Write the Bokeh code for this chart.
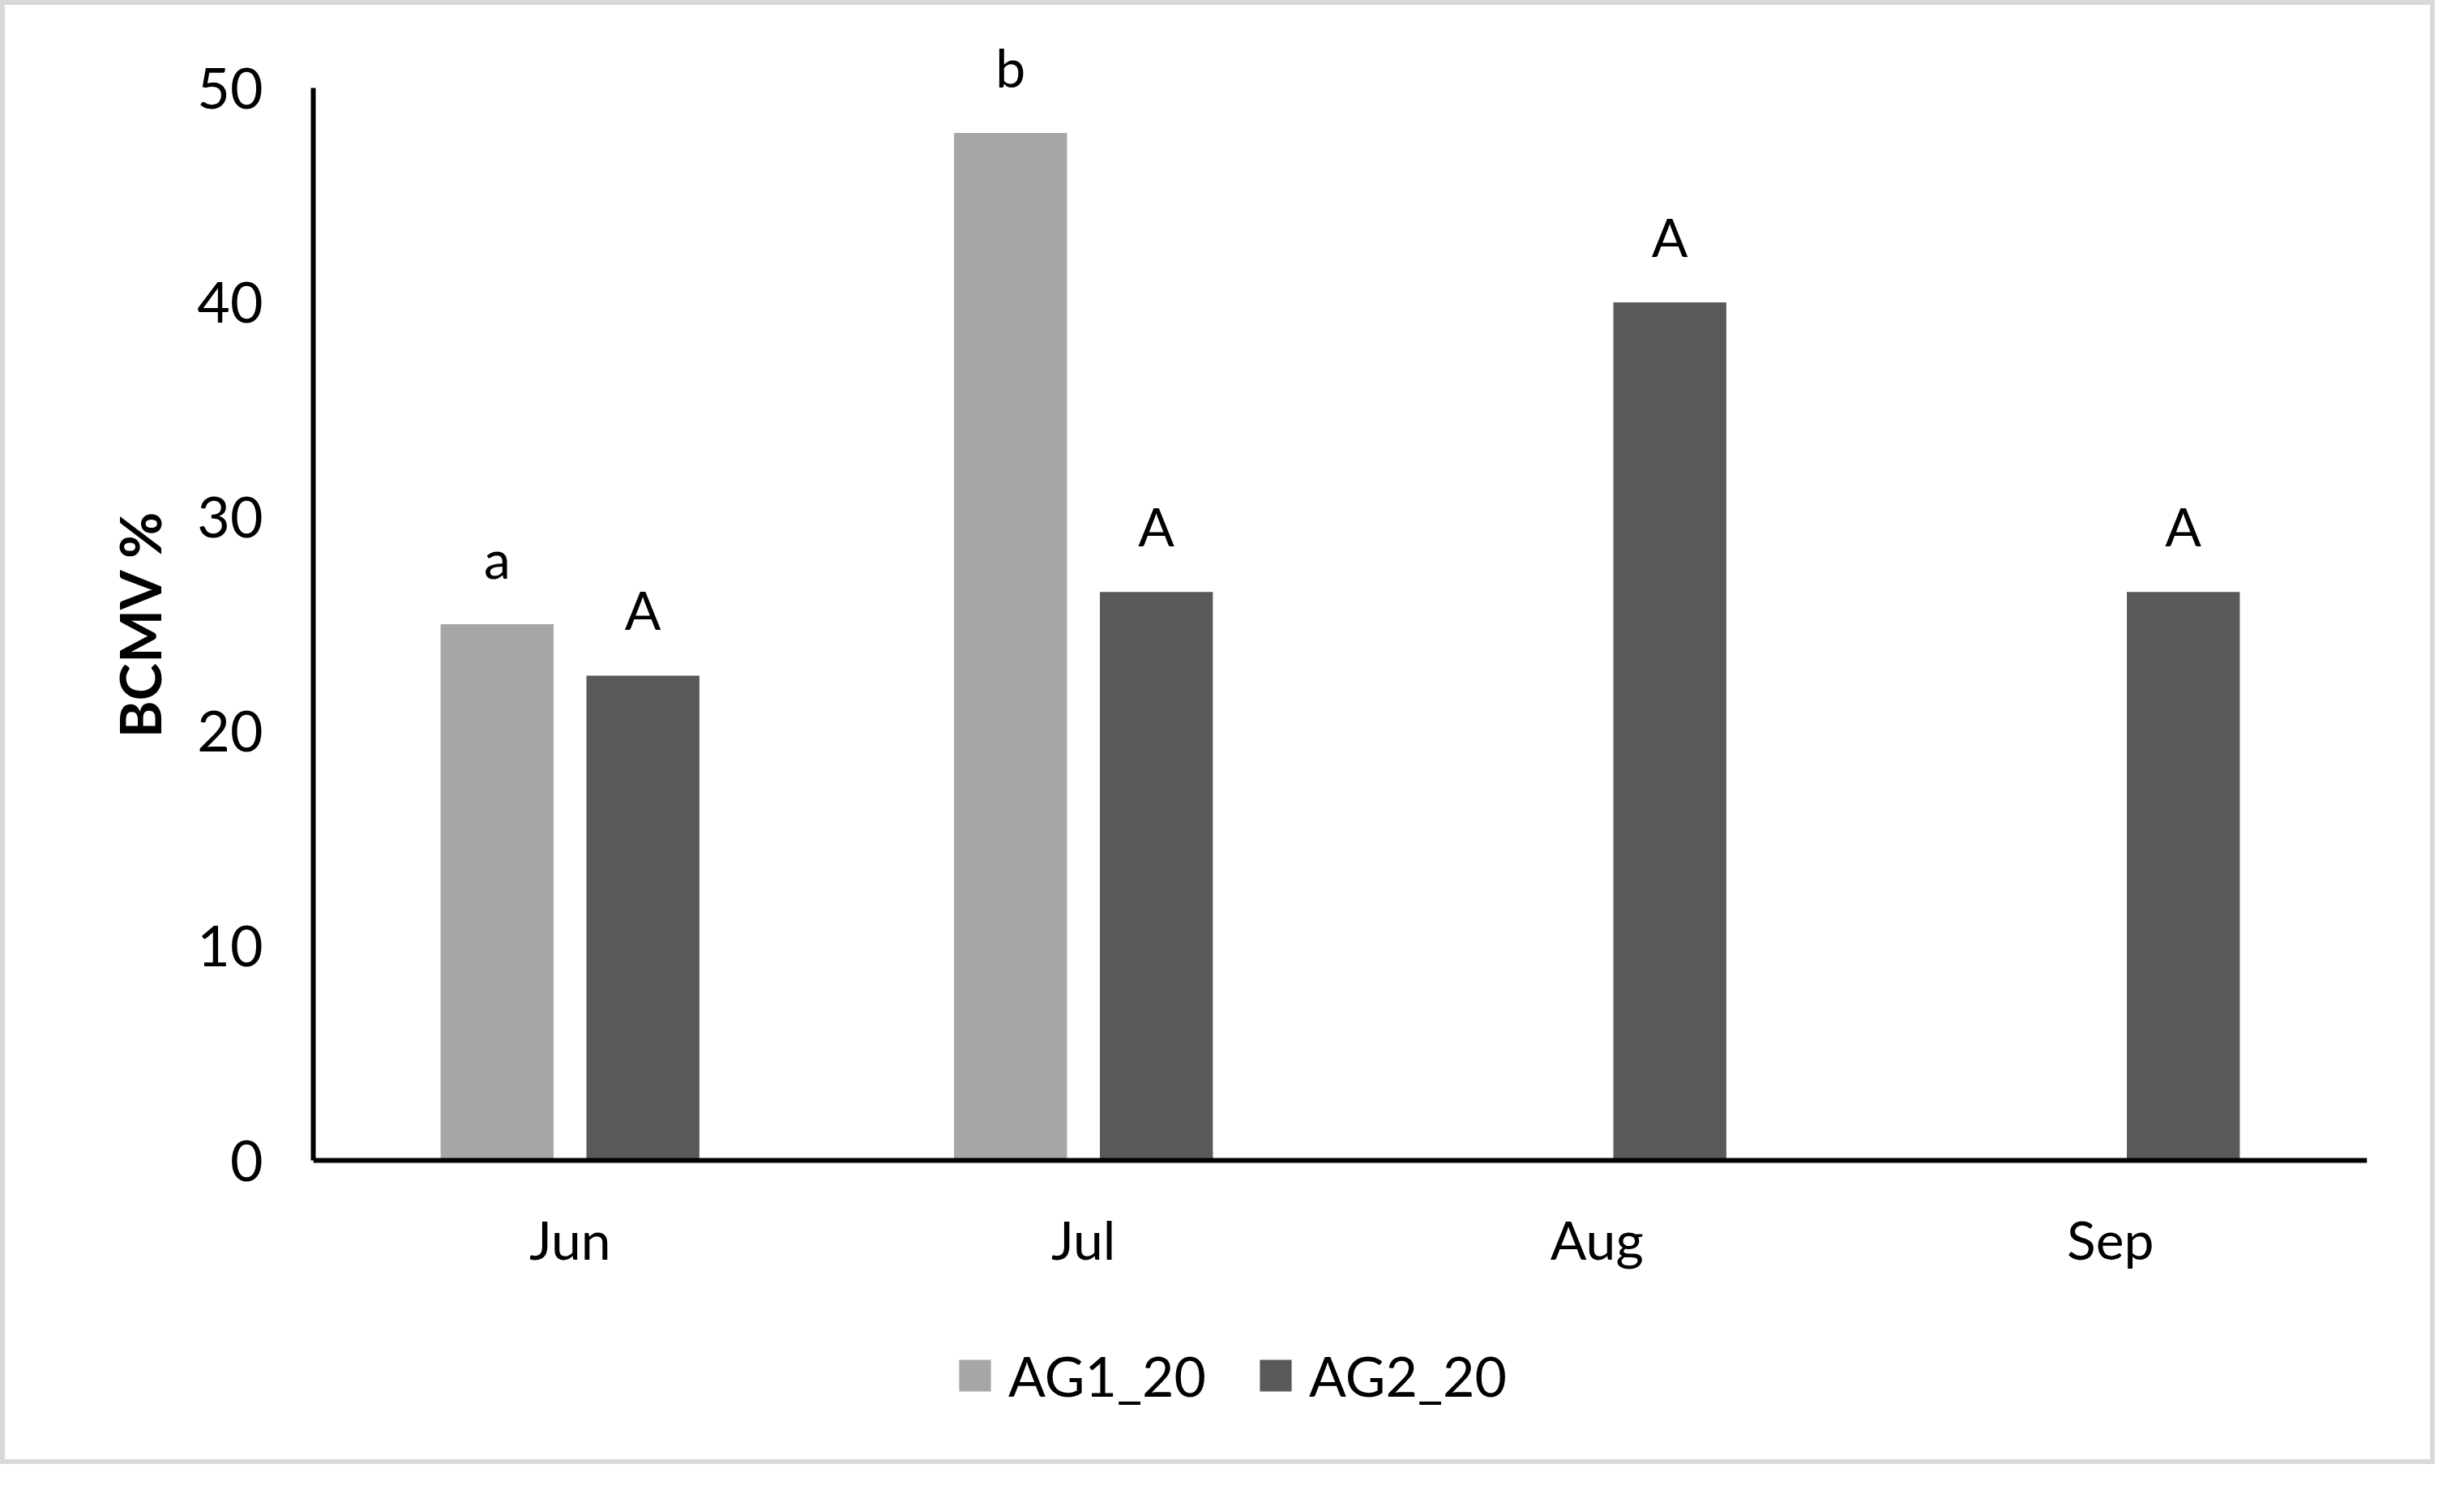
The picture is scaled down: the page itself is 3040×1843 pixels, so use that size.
from bokeh.plotting import figure
from bokeh.models import Range1d, FixedTicker, Legend, LegendItem, ColumnDataSource, Span, Title
from bokeh.transform import dodge
from bokeh.core.properties import value
from bokeh.embed import file_html
from bokeh.resources import INLINE

# ---- data ----
months = ["Jun", "Jul", "Aug", "Sep"]
ag1_values = [25.0, 47.9, 0.0, 0.0]
ag2_values = [22.6, 26.5, 40.0, 26.5]
ag1_letters = ["a", "b", "", ""]
ag2_letters = ["A", "A", "A", "A"]
series_names = ["AG1_20", "AG2_20"]
y_ticks = [0, 10, 20, 30, 40, 50]
y_label = "BCMV %"

FONT = "Lato"
C1 = "#a6a6a6"
C2 = "#595959"

# layout (pixels)
AX_H = 1323.0          # height of the 0..50 axis
PPU = AX_H / 50.0      # pixels per unit
TOP_EXTRA = 76         # frame space above 50
BOT_EXTRA = 351        # frame space below 0 (labels + legend)

src = ColumnDataSource(dict(month=months, ag1=ag1_values, ag2=ag2_values,
                            l1=ag1_letters, l2=ag2_letters))

p = figure(x_range=months,
           y_range=Range1d(-BOT_EXTRA / PPU, 50 + TOP_EXTRA / PPU),
           width=3004, height=1806,
           min_border_left=380, min_border_top=26,
           min_border_right=90, min_border_bottom=30,
           output_backend="svg", toolbar_location=None)
p.styles = {"border": "6px solid #d9d9d9"}

p.outline_line_color = None
p.xgrid.grid_line_color = None
p.ygrid.grid_line_color = None
p.background_fill_color = "white"
p.border_fill_color = "white"

off = 0.142
bw = 0.22
r1 = p.vbar(x=dodge("month", -off, range=p.x_range), top="ag1", width=bw,
            source=src, fill_color=C1, line_color=None)
r2 = p.vbar(x=dodge("month", off, range=p.x_range), top="ag2", width=bw,
            source=src, fill_color=C2, line_color=None)

for col, lab, d in (("ag1", "l1", -off), ("ag2", "l2", off)):
    p.text(x=dodge("month", d, range=p.x_range), y=col, text=lab, source=src,
           y_offset=-82, text_align="center", text_baseline="alphabetic",
           text_font=value(FONT), text_font_size="66px", text_color="black")

# x axis: line at 0 plus month labels
p.xaxis.visible = False
p.add_layout(Span(location=0, dimension="width", line_color="black", line_width=6))
p.text(x="month", y=0, text="month", source=src, y_offset=97,
       text_align="center", text_baseline="alphabetic",
       text_font=value(FONT), text_font_size="66px", text_color="black")

# y axis
ya = p.yaxis[0]
ya.bounds = (0, 50)
ya.ticker = FixedTicker(ticks=y_ticks)
ya.axis_line_width = 6
ya.axis_line_color = "black"
ya.major_tick_line_color = None
ya.minor_tick_line_color = None
ya.major_tick_out = 0
ya.major_tick_in = 0
ya.major_label_text_font = FONT
ya.major_label_text_font_size = "70px"
ya.major_label_text_color = "black"
ya.major_label_standoff = 62

ytitle = Title(text=y_label, align="left", offset=872, standoff=54,
               text_font=FONT, text_font_style="bold", text_font_size="70px",
               text_color="black")
p.add_layout(ytitle, "left")

legend = Legend(items=[LegendItem(label=series_names[0], renderers=[r1]),
                       LegendItem(label=series_names[1], renderers=[r2])],
                orientation="horizontal", location=(792, 45),
                glyph_width=49, glyph_height=49, label_standoff=17,
                spacing=61, padding=0, margin=0,
                border_line_color=None, background_fill_alpha=0,
                label_text_font=FONT, label_text_font_size="68px",
                label_text_color="black")
p.add_layout(legend)

open("out.html", "w").write(file_html(p, INLINE))
